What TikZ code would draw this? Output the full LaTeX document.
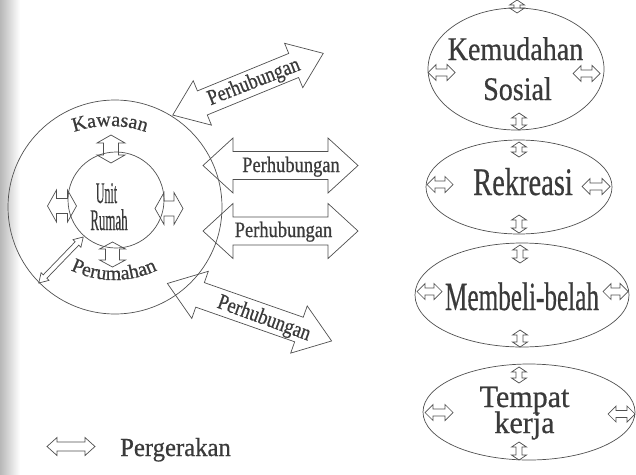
\documentclass[tikz,border=0pt]{standalone}
\usepackage{fontspec}
\usepackage{graphicx}
\setmainfont{Liberation Serif}[FakeBold=0.6]
\usetikzlibrary{decorations.text,shapes.geometric}

\definecolor{ink}{HTML}{505050}
\definecolor{txt}{HTML}{3A3A3A}

% hollow double-headed arrow: length / shaft half-width / head half-width / head length
\tikzset{
  outline/.style={draw=ink, line width=0.7pt, line join=miter},
  lbl/.style={text=txt, inner sep=0pt},
  pics/dblarrow/.style args={#1/#2/#3/#4}{code={
    \draw[outline] (-#1/2,0) -- (-#1/2+#4,-#3) -- (-#1/2+#4,-#2)
      -- (#1/2-#4,-#2) -- (#1/2-#4,-#3) -- (#1/2,0) -- (#1/2-#4,#3)
      -- (#1/2-#4,#2) -- (-#1/2+#4,#2) -- (-#1/2+#4,#3) -- cycle;
  }},
}

\begin{document}
\begin{tikzpicture}[x=1pt,y=-1pt]
\useasboundingbox (0,0) rectangle (636,474);
\fill[white] (0,0) rectangle (636,474);
\shade[left color=black!28, right color=white] (0,0) rectangle (20,474);

% ---------- housing area ----------
\node[outline, circle, minimum size=214pt, inner sep=0pt] (outer) at (115,207) {};
\node[outline, circle, minimum size=96pt, inner sep=0pt] (inner) at (116,200) {};

\node[lbl, anchor=base] (unit) at (106.5,203) {\fontsize{30}{30}\selectfont\scalebox{0.4}[1]{Unit}};
\node[lbl, anchor=base] (rumah) at (109,230) {\fontsize{30}{30}\selectfont\scalebox{0.43}[1]{Rumah}};

\path[decorate, decoration={text along path, text color=txt, text align=center,
    text={|\fontsize{20}{24}\selectfont|Kawasan}}]
  (110,236) ++(-120:110) arc[start angle=-120, end angle=-60, radius=110];
\path[decorate, decoration={text along path, text color=txt, text align=center,
    text={|\fontsize{20}{24}\selectfont|Perumahan}}]
  (114,180) ++(125:100) arc[start angle=125, end angle=55, radius=100];

% movement around the house unit
\pic[rotate=90] at (111,149) {dblarrow=28/7.5/14/8};
\pic[rotate=90] at (112.5,254.5) {dblarrow=25/7/13/7};
\pic at (62,206) {dblarrow=29/7.5/16/9};
\pic at (169,208.5) {dblarrow=28/7.5/16/9};
\pic[rotate=46] at (61,260) {dblarrow=64/2.5/5.5/9};

% ---------- links ----------
\pic[rotate=22.3] at (248,84.2) {dblarrow=162.7/13/24/32};
\pic at (280.5,165.5) {dblarrow=155/14/27.5/30};
\pic at (280.5,231) {dblarrow=155/14/27.5/30};
\pic[rotate=-19.3] at (249.5,312.2) {dblarrow=174/13/25/34.6};

\node[lbl, anchor=base, rotate=21.5] (p1) at (256,87.5) {\fontsize{22}{22}\selectfont\scalebox{0.84}[1]{Perhubungan}};
\node[lbl, anchor=base] (p2) at (291,172) {\fontsize{22}{22}\selectfont\scalebox{0.84}[1]{Perhubungan}};
\node[lbl, anchor=base] (p3) at (283.5,237) {\fontsize{22}{22}\selectfont\scalebox{0.84}[1]{Perhubungan}};
\node[lbl, anchor=base, rotate=-20] (p4) at (262,324) {\fontsize{22}{22}\selectfont\scalebox{0.84}[1]{Perhubungan}};

% ---------- facilities ----------
\node[outline, ellipse, minimum width=176pt, minimum height=122pt, inner sep=0pt] (e1) at (516,69) {};
\node[outline, ellipse, minimum width=186pt, minimum height=94pt, inner sep=0pt] (e2) at (519,187) {};
\node[outline, ellipse, minimum width=214pt, minimum height=104pt, inner sep=0pt] (e3) at (522,295) {};
\node[outline, ellipse, minimum width=212pt, minimum height=96pt, inner sep=0pt] (e4) at (529,412) {};

\node[lbl, anchor=base] (k1) at (515.5,60) {\fontsize{33}{33}\selectfont\scalebox{0.85}[1]{Kemudahan}};
\node[lbl, anchor=base] (k2) at (517.5,100) {\fontsize{33}{33}\selectfont\scalebox{0.85}[1]{Sosial}};
\node[lbl, anchor=base] (r1) at (523,195) {\fontsize{39}{39}\selectfont\scalebox{0.73}[1]{Rekreasi}};
\node[lbl, anchor=base] (m1) at (522,310) {\fontsize{40}{40}\selectfont\scalebox{0.63}[1]{Membeli-belah}};
\node[lbl, anchor=base] (w1) at (524.5,407) {\fontsize{31}{31}\selectfont\scalebox{0.97}[1]{Tempat}};
\node[lbl, anchor=base] (w2) at (524.5,433) {\fontsize{31}{31}\selectfont\scalebox{0.97}[1]{kerja}};

% movement at each facility
\pic[rotate=90] at (517,6.5) {dblarrow=13/3/7.5/5};
\pic[rotate=90] at (519,121.5) {dblarrow=17/3/7.5/5};
\pic at (441.5,72.5) {dblarrow=27/3.5/8/8};
\pic at (586.5,73.5) {dblarrow=27/3.5/8/8};

\pic[rotate=90] at (519,149.5) {dblarrow=15/3/7.5/5};
\pic[rotate=90] at (519,224) {dblarrow=18/3/7.5/5};
\pic at (440,184.5) {dblarrow=26/3.5/8/8};
\pic at (596,186.5) {dblarrow=28/3.5/8/8};

\pic[rotate=90] at (520,254) {dblarrow=18/3/7.5/5};
\pic[rotate=90] at (520,338.5) {dblarrow=17/3/7.5/5};
\pic at (429.5,291.5) {dblarrow=25/3.5/8/8};
\pic at (615.5,291.5) {dblarrow=25/3.5/8/8};

\pic[rotate=90] at (519,375) {dblarrow=16/3/7.5/5};
\pic[rotate=90] at (519,451) {dblarrow=18/3/7.5/5};
\pic at (439,412.5) {dblarrow=28/3.5/8/8};
\pic at (621.5,414) {dblarrow=27/3.5/8/8};

% ---------- legend ----------
\pic at (71,446.5) {dblarrow=48/4.5/9/10};
\node[lbl, anchor=base west] (leg) at (120,456) {\fontsize{26}{26}\selectfont\scalebox{0.95}[1]{Pergerakan}};
\end{tikzpicture}
\end{document}
